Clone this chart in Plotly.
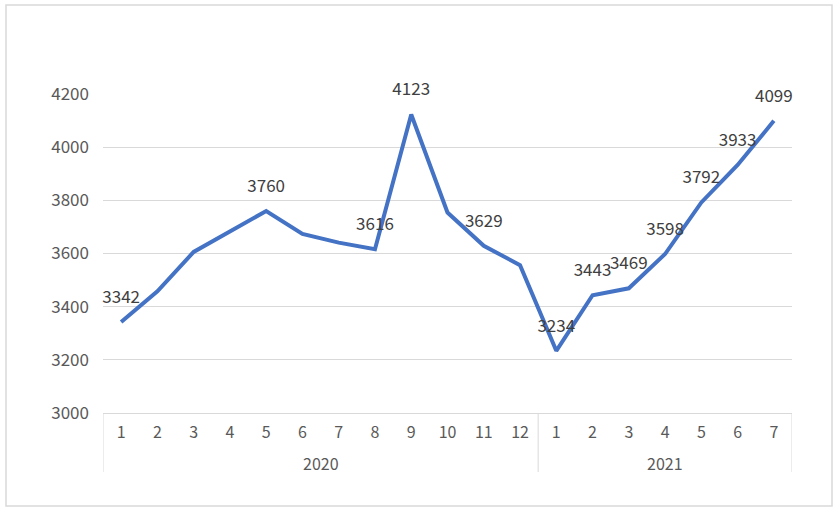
import plotly.graph_objects as go

years = ["2020"] * 12 + ["2021"] * 7
months = [str(m) for m in range(1, 13)] + [str(m) for m in range(1, 8)]
values = [3342, 3458, 3606, 3682, 3760, 3674, 3641, 3616, 4123, 3754, 3629, 3556,
          3234, 3443, 3469, 3598, 3792, 3933, 4099]
labelled = [True, False, False, False, True, False, False, True, True, False, True, False,
            True, True, True, True, True, True, True]
labels = [str(v) if show else "" for v, show in zip(values, labelled)]
y_ticks = [3000, 3200, 3400, 3600, 3800, 4000, 4200]

FONT = "Noto Sans CJK SC, Liberation Sans, sans-serif"
GRID = "#d9d9d9"

idx = list(range(len(values)))

fig = go.Figure()
fig.add_trace(go.Scatter(
    x=idx, y=values,
    mode="lines+markers+text",
    text=labels, textposition="top center",
    textfont=dict(size=17, color="#404040", family=FONT),
    line=dict(color="#4472C4", width=4),
    marker=dict(size=22, color="rgba(0,0,0,0)", line=dict(width=0)),
    cliponaxis=False,
    customdata=[f"{y}-{m}" for y, m in zip(years, months)],
    hovertemplate="%{customdata}: %{y}<extra></extra>",
))

# year groups: dividers and centred year labels
groups = []
for i, y in enumerate(years):
    if not groups or groups[-1][0] != y:
        groups.append([y, i, i])
    else:
        groups[-1][2] = i

shapes = []
annotations = []
bounds = sorted({g[1] - 0.5 for g in groups} | {g[2] + 0.5 for g in groups})
for b in bounds:
    shapes.append(dict(type="line", xref="x", yref="paper", x0=b, x1=b,
                       y0=0, y1=-(472 - 413) / 319,
                       line=dict(color=GRID, width=1)))
for name, a, b in groups:
    annotations.append(dict(x=(a + b) / 2, y=-(463 - 413) / 319, xref="x", yref="paper",
                            text=name, showarrow=False, yanchor="middle",
                            font=dict(size=16, color="#595959", family=FONT)))

shapes.append(dict(
    type="rect", xref="paper", yref="paper",
    x0=(6 - 103) / 689, x1=(832 - 103) / 689,
    y0=(413 - 506) / 319, y1=(413 - 5) / 319,
    line=dict(color=GRID, width=1.5), fillcolor="rgba(0,0,0,0)",
    layer="below",
))

fig.update_layout(
    width=838, height=513,
    margin=dict(l=103, r=46, t=94, b=100, autoexpand=False),
    paper_bgcolor="white", plot_bgcolor="white",
    showlegend=False,
    font=dict(family=FONT, color="#595959"),
    xaxis=dict(
        range=[-0.5, len(values) - 0.5], automargin=False,
        tickvals=idx, ticktext=months,
        showline=True, linecolor=GRID, linewidth=1,
        showgrid=False, zeroline=False,
        tickfont=dict(size=16, color="#595959"),
        ticks="", ticklabelstandoff=5,
    ),
    yaxis=dict(
        range=[3000, 4200], tickvals=y_ticks, automargin=False,
        showgrid=True, gridcolor=GRID, gridwidth=1,
        zeroline=False, showline=False,
        tickfont=dict(size=17, color="#595959"),
        ticks="", ticklabelstandoff=13,
    ),
    shapes=shapes,
    annotations=annotations,
)

fig.write_html("out.html", config={"displayModeBar": False},
               post_script="document.body.style.margin='0';")
